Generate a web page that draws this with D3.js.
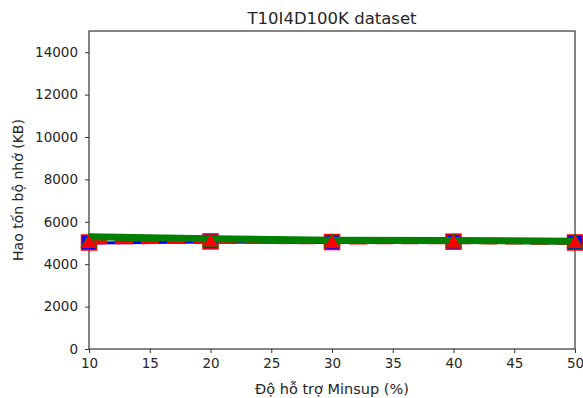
<!DOCTYPE html>
<html>
<head>
<meta charset="utf-8">
<script src="https://cdn.jsdelivr.net/npm/d3@7"></script>
<style>
    body { margin: 0; background: #fff; }
    svg { font-family: "DejaVu Sans", sans-serif; }
</style>
</head>
<body>
<svg id="chart" width="583" height="398"></svg>
<script>
(function () {

    // data
    var minsup = [10, 20, 30, 40, 50];
    var memBlue = [5000, 5050, 5020, 5040, 5000];
    var memRed = [5050, 5080, 5050, 5060, 5030];
    var memGreen = [5300, 5200, 5130, 5120, 5080];
    var xTicks = [10, 15, 20, 25, 30, 35, 40, 45, 50];
    var yTicks = [0, 2000, 4000, 6000, 8000, 10000, 12000, 14000];

    var left = 89, right = 575, top = 31, bottom = 349;
    var svg = d3.select("#chart");

    var x = d3.scaleLinear().domain([10, 50]).range([left, right]);
    var y = d3.scaleLinear().domain([0, 15000]).range([bottom, top]);

    var textColor = "#262626";

    // frame
    svg.append("rect")
        .attr("x", left).attr("y", top)
        .attr("width", right - left).attr("height", bottom - top)
        .attr("fill", "none").attr("stroke", "#333").attr("stroke-width", 1.2);

    var xAxis = svg.append("g")
        .attr("transform", "translate(0," + bottom + ")")
        .call(d3.axisBottom(x).tickValues(xTicks).tickSize(4).tickPadding(5).tickFormat(d3.format("d")));
    var yAxis = svg.append("g")
        .attr("transform", "translate(" + left + ",0)")
        .call(d3.axisLeft(y).tickValues(yTicks).tickSize(4).tickPadding(7).tickFormat(d3.format("d")));

    [xAxis, yAxis].forEach(function (g) {
        g.attr("font-family", "DejaVu Sans").attr("font-size", 13.5);
        g.select(".domain").remove();
        g.selectAll(".tick line").attr("stroke", "#333");
        g.selectAll(".tick text").attr("fill", textColor);
    });

    var line = d3.line()
        .x(function (d, i) { return x(minsup[i]); })
        .y(function (d) { return y(d); });

    var plot = svg.append("g");

    // blue series with square markers
    plot.append("path").datum(memBlue)
        .attr("d", line).attr("fill", "none")
        .attr("stroke", "blue").attr("stroke-width", 3);
    plot.selectAll(".sq").data(memBlue).enter().append("rect")
        .attr("x", function (d, i) { return x(minsup[i]) - 7.5; })
        .attr("y", function (d) { return y(d) - 8; })
        .attr("width", 15).attr("height", 15)
        .attr("fill", "blue").attr("stroke", "red").attr("stroke-width", 1.5);

    // red dashed series
    plot.append("path").datum(memRed)
        .attr("d", line).attr("fill", "none")
        .attr("stroke", "red").attr("stroke-width", 5)
        .attr("stroke-dasharray", "18,8");

    // green series with triangle markers
    plot.append("path").datum(memGreen)
        .attr("d", line).attr("fill", "none")
        .attr("stroke", "green").attr("stroke-width", 7);
    plot.selectAll(".tri").data(memRed).enter().append("path")
        .attr("transform", function (d, i) { return "translate(" + x(minsup[i]) + "," + (y(d) + 1) + ")"; })
        .attr("d", d3.symbol().type(d3.symbolTriangle).size(110))
        .attr("fill", "red").attr("stroke", "green").attr("stroke-width", 1);

    // title and labels
    svg.append("text")
        .attr("x", (left + right) / 2).attr("y", 24)
        .attr("text-anchor", "middle").attr("fill", textColor)
        .style("font-size", "16.5px")
        .text("T10I4D100K dataset");

    svg.append("text")
        .attr("x", (left + right) / 2).attr("y", 394)
        .attr("text-anchor", "middle").attr("fill", textColor)
        .style("font-size", "14.5px")
        .text("Độ hỗ trợ Minsup (%)");

    svg.append("text")
        .attr("transform", "translate(23," + ((top + bottom) / 2) + ") rotate(-90)")
        .attr("text-anchor", "middle").attr("fill", textColor)
        .style("font-size", "14px")
        .text("Hao tốn bộ nhớ (KB)");

})();
</script>
</body>
</html>
